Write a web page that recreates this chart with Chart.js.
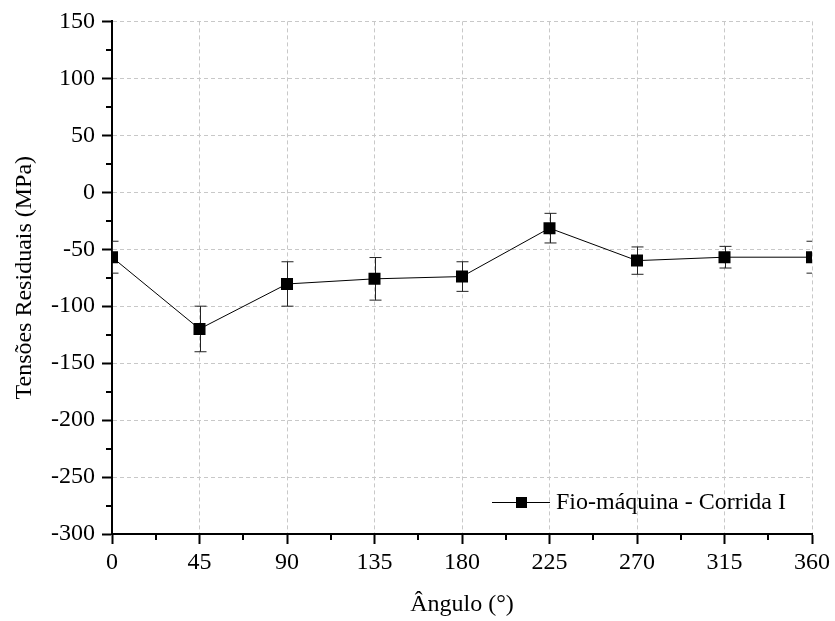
<!DOCTYPE html>
<html>
<head>
<meta charset="utf-8">
<script src="https://cdn.jsdelivr.net/npm/chart.js@4/dist/chart.umd.min.js"></script>
<style>
  html, body { margin: 0; padding: 0; background: #fff; }
  #wrap { width: 835px; height: 621px; }
</style>
</head>
<body>
<div id="wrap"><canvas id="chart" width="835" height="621"></canvas></div>
<script>
// Data
const angulos = [0, 45, 90, 135, 180, 225, 270, 315, 360];
const tensoes = [-57, -120, -80.5, -76, -74, -31.5, -60, -57, -57];
const erros = [14, 20, 19.5, 18.7, 13, 13, 12, 9.5, 14];
const serieLabel = 'Fio-máquina - Corrida I';
const xTitulo = 'Ângulo (°)';
const yTitulo = 'Tensões Residuais (MPa)';

const FONT = '"Liberation Serif", "Times New Roman", serif';

// Vertical error bars with caps, drawn under the markers
const errorBars = {
    id: 'errorBars',
    beforeDatasetsDraw(chart) {
        const { ctx, chartArea, scales } = chart;
        const meta = chart.getDatasetMeta(0);
        ctx.save();
        ctx.beginPath();
        ctx.rect(chartArea.left, chartArea.top, chartArea.right - chartArea.left, chartArea.bottom - chartArea.top);
        ctx.clip();
        ctx.strokeStyle = '#222';
        ctx.lineWidth = 1;
        meta.data.forEach((pt, i) => {
            const x = Math.round(pt.x) + 0.5;
            const yTop = scales.y.getPixelForValue(tensoes[i] + erros[i]);
            const yBot = scales.y.getPixelForValue(tensoes[i] - erros[i]);
            ctx.beginPath();
            ctx.moveTo(x, yTop); ctx.lineTo(x, yBot);
            ctx.moveTo(x - 6, yTop); ctx.lineTo(x + 6, yTop);
            ctx.moveTo(x - 6, yBot); ctx.lineTo(x + 6, yBot);
            ctx.stroke();
        });
        ctx.restore();
    }
};

// Short minor ticks halfway between the major ones
const minorTicks = {
    id: 'minorTicks',
    afterDraw(chart) {
        const { ctx, chartArea, scales } = chart;
        ctx.save();
        ctx.strokeStyle = '#000';
        ctx.lineWidth = 2;
        const xt = scales.x.ticks;
        for (let i = 0; i < xt.length - 1; i++) {
            const px = Math.round(scales.x.getPixelForValue((xt[i].value + xt[i + 1].value) / 2));
            ctx.beginPath();
            ctx.moveTo(px, chartArea.bottom);
            ctx.lineTo(px, chartArea.bottom + 6);
            ctx.stroke();
        }
        const yt = scales.y.ticks;
        for (let i = 0; i < yt.length - 1; i++) {
            const py = Math.round(scales.y.getPixelForValue((yt[i].value + yt[i + 1].value) / 2));
            ctx.beginPath();
            ctx.moveTo(chartArea.left, py);
            ctx.lineTo(chartArea.left - 6, py);
            ctx.stroke();
        }
        ctx.restore();
    }
};

// Legend inside the plot: line sample with a square marker, then the label
const insideLegend = {
    id: 'insideLegend',
    afterDraw(chart) {
        const { ctx, chartArea } = chart;
        const y = chartArea.bottom - 32;
        const x0 = chartArea.right - 320;
        ctx.save();
        ctx.strokeStyle = '#000';
        ctx.lineWidth = 1;
        ctx.beginPath();
        ctx.moveTo(x0, y + 0.5);
        ctx.lineTo(x0 + 58, y + 0.5);
        ctx.stroke();
        ctx.fillStyle = '#000';
        ctx.fillRect(x0 + 24, y - 5, 11, 11);
        ctx.font = '24px ' + FONT;
        ctx.textBaseline = 'middle';
        ctx.textAlign = 'left';
        ctx.fillText(chart.data.datasets[0].label, x0 + 64, y + 1);
        ctx.restore();
    }
};

const gridCommon = {
    color: '#c8c8c8',
    lineWidth: 1,
    tickColor: '#000',
    tickWidth: 2,
    tickLength: 10,
    tickBorderDash: []
};

// plain hyphen for negative numbers
const plainNumber = v => String(v);

new Chart(document.getElementById('chart'), {
    type: 'line',
    data: {
        datasets: [{
            label: serieLabel,
            data: angulos.map((a, i) => ({ x: a, y: tensoes[i] })),
            borderColor: '#000',
            borderWidth: 1,
            backgroundColor: '#000',
            pointStyle: 'rect',
            pointRadius: 8.5,
            pointBorderWidth: 0,
            pointHoverRadius: 8.5,
            tension: 0
        }]
    },
    options: {
        responsive: false,
        animation: false,
        events: [],
        layout: { padding: { top: 20, right: 23, left: 0, bottom: 0 } },
        plugins: {
            legend: { display: false },
            tooltip: { enabled: false }
        },
        scales: {
            x: {
                type: 'linear',
                min: 0,
                max: 360,
                ticks: {
                    stepSize: 45,
                    color: '#000',
                    padding: 4,
                    maxRotation: 0,
                    callback: plainNumber,
                    font: { family: FONT, size: 24 }
                },
                grid: gridCommon,
                border: { display: true, color: '#000', width: 2, dash: [4, 3] },
                title: {
                    display: true,
                    text: xTitulo,
                    color: '#000',
                    font: { family: FONT, size: 24 },
                    padding: { top: 0, bottom: 2 }
                },
                afterFit(scale) { scale.height = 87; }
            },
            y: {
                min: -300,
                max: 150,
                ticks: {
                    stepSize: 50,
                    color: '#000',
                    padding: 7,
                    callback: plainNumber,
                    font: { family: FONT, size: 24 }
                },
                grid: gridCommon,
                border: { display: true, color: '#000', width: 2, dash: [4, 3] },
                title: {
                    display: true,
                    text: yTitulo,
                    color: '#000',
                    font: { family: FONT, size: 24 },
                    padding: { top: 10, bottom: 0 }
                },
                afterFit(scale) { scale.width = 112; }
            }
        }
    },
    plugins: [errorBars, minorTicks, insideLegend]
});
</script>
</body>
</html>
